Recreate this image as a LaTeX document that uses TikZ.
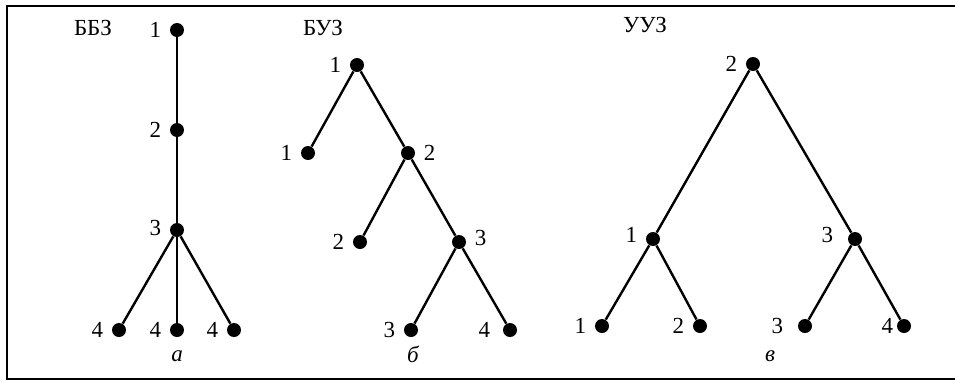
\documentclass[tikz,border=0pt]{standalone}
\usepackage{fontspec}
\setmainfont{Liberation Serif}
\usetikzlibrary{positioning}
\tikzset{
    base/.style={font=\fontsize{11.5}{13}\selectfont},
    dot/.style={circle, fill=black, inner sep=0pt, minimum size=7pt},
    edge/.style={line width=1.2pt},
    title/.style={base, inner sep=1pt},
    caption/.style={base, font=\fontsize{11.5}{13}\selectfont\itshape, inner sep=1pt}
}
\begin{document}
\begin{tikzpicture}[x=0.5pt, y=-0.5pt, label distance=3pt,
                    every label/.style={base, inner sep=1pt}]
  \useasboundingbox (0,0) rectangle (955,381);
  % frame, open on the right
  \draw[line width=1.1pt] (955,6) -- (7,6) -- (7,379) -- (955,379);

  % panel a
  \node[title] (tA) at (93,28) {ББЗ};
  \node[dot, label=left:1] (a1) at (177,30) {};
  \node[dot, label=left:2] (a2) at (177,130) {};
  \node[dot, label={[yshift=1pt]left:3}] (a3) at (177,230) {};
  \node[dot, label=left:4] (a4) at (119,330) {};
  \node[dot, label=left:4] (a5) at (177,330) {};
  \node[dot, label=left:4] (a6) at (234,330) {};
  \draw[edge] (a1) -- (a2) -- (a3) -- (a5);
  \draw[edge] (a4) -- (a3) -- (a6);
  \node[caption] (cA) at (177,356) {а};

  % panel b
  \node[title] (tB) at (323,28) {БУЗ};
  \node[dot, label=left:1] (b1) at (357,65) {};
  \node[dot, label=left:1] (b2) at (308,153) {};
  \node[dot, label=right:2] (b3) at (408,153) {};
  \node[dot, label=left:2] (b4) at (360,242) {};
  \node[dot, label={[yshift=2pt]right:3}] (b5) at (459,242) {};
  \node[dot, label=left:3] (b6) at (411,330) {};
  \node[dot, label={[xshift=-2pt]left:4}] (b7) at (510,330) {};
  \draw[edge] (b2) -- (b1) -- (b3) -- (b5) -- (b7);
  \draw[edge] (b3) -- (b4);
  \draw[edge] (b5) -- (b6);
  \node[caption] (cB) at (413,354) {б};

  % panel c
  \node[title] (tC) at (645,25) {УУЗ};
  \node[dot, label=left:2] (c1) at (753,64) {};
  \node[dot, label={[yshift=2pt]left:1}] (c2) at (653,239) {};
  \node[dot, label={[xshift=-3pt, yshift=2pt]left:3}] (c3) at (855,239) {};
  \node[dot, label=left:1] (c4) at (602,326) {};
  \node[dot, label=left:2] (c5) at (700,326) {};
  \node[dot, label={[xshift=-3pt]left:3}] (c6) at (805,326) {};
  \node[dot, label={[xshift=2.5pt]left:4}] (c7) at (904,326) {};
  \draw[edge] (c4) -- (c2) -- (c1) -- (c3) -- (c7);
  \draw[edge] (c2) -- (c5);
  \draw[edge] (c3) -- (c6);
  \node[caption] (cC) at (770,356) {в};
\end{tikzpicture}
\end{document}
